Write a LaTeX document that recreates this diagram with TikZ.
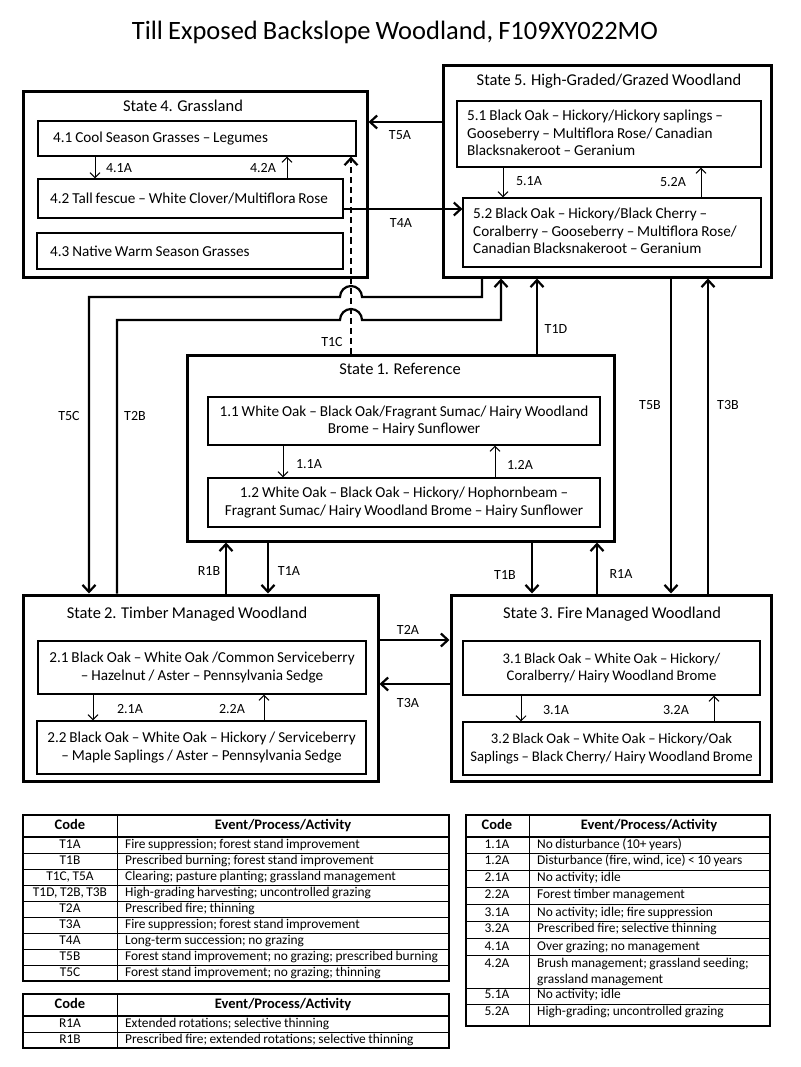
\documentclass[tikz,border=0pt]{standalone}
\usepackage{fontspec}
\setmainfont{Carlito}[WordSpace=0.85]
\usetikzlibrary{arrows.meta}
\begin{document}
\begin{tikzpicture}[x=1pt,y=-1pt,
  statebox/.style={draw,line width=3pt,inner sep=0pt},
  ibox/.style={draw,line width=1.2pt,inner ysep=0pt,font=\fontsize{15.2}{17.5}\selectfont},
  cbox/.style={ibox,align=center},
  sbox/.style={cbox,font=\fontsize{14.7}{17.5}\selectfont},
  btext/.style={font=\fontsize{15.2}{17.5}\selectfont,inner sep=0pt,anchor=west,align=left},
  stitle/.style={font=\fontsize{16.5}{19}\selectfont,inner sep=0pt,anchor=base},
  lbl/.style={font=\fontsize{14}{17}\selectfont,inner sep=0pt,anchor=base},
  conn/.style={line width=2.2pt,-{Straight Barb[length=7pt,width=13pt]}},
  iconn/.style={line width=1pt,-{Straight Barb[length=5pt,width=10pt]}},
  tline/.style={line width=0.9pt},
  tframe/.style={line width=1.3pt},
  thead/.style={font=\fontsize{14.5}{16}\bfseries\selectfont,inner sep=0pt,text height=10pt,text depth=3pt},
  tcode/.style={font=\fontsize{13.4}{15}\selectfont,inner sep=0pt,text height=9pt,text depth=3pt},
  ttext/.style={font=\fontsize{13.4}{15.5}\selectfont,inner sep=0pt,text height=9pt,text depth=3pt,anchor=west,align=left}
]
\useasboundingbox (0,0) rectangle (800,1067);

% title
\node[font=\fontsize{26.5}{30}\selectfont,inner sep=0pt,anchor=base] (title) at (395,40) {Till Exposed Backslope Woodland, F109XY022MO};

% states
\node[statebox,minimum width=344pt,minimum height=185pt] (s4) at (195,184.5) {};
\node[statebox,minimum width=328pt,minimum height=211pt] (s5) at (607,171.5) {};
\node[statebox,minimum width=427pt,minimum height=186pt] (s1) at (400.5,448) {};
\node[statebox,minimum width=355pt,minimum height=186pt] (s2) at (200.5,688) {};
\node[statebox,minimum width=320pt,minimum height=186pt] (s3) at (611,688) {};

\node[stitle] (s4t) at (183,112) {State 4. Grassland};
\node[stitle] (s5t) at (609,86) {State 5. High-Graded/Grazed Woodland};
\node[stitle] (s1t) at (400,374) {State 1. Reference};
\node[stitle] (s2t) at (187,618) {State 2. Timber Managed Woodland};
\node[stitle] (s3t) at (612,618) {State 3. Fire Managed Woodland};

% inner boxes, left-aligned text
\node[ibox,minimum width=318pt,minimum height=35pt] (b41) at (197,138.5) {};
\node[btext] (b41t) at (53,138.5) {4.1 Cool Season Grasses – Legumes};
\node[ibox,minimum width=305pt,minimum height=39pt] (b42) at (190.5,198.5) {};
\node[btext] (b42t) at (50,198.5) {4.2 Tall fescue – White Clover/Multiflora Rose};
\node[ibox,minimum width=306pt,minimum height=36pt] (b43) at (190,251) {};
\node[btext] (b43t) at (50,251) {4.3 Native Warm Season Grasses};
\node[ibox,minimum width=304pt,minimum height=66pt] (b51) at (609,134) {};
\node[btext] (b51t) at (467,133) {5.1 Black Oak – Hickory/Hickory saplings –\\Gooseberry – Multiflora Rose/ Canadian\\Blacksnakeroot – Geranium};
\node[ibox,minimum width=298pt,minimum height=69pt] (b52) at (612,232.5) {};
\node[btext] (b52t) at (473,231) {5.2 Black Oak – Hickory/Black Cherry –\\Coralberry – Gooseberry – Multiflora Rose/\\Canadian Blacksnakeroot – Geranium};

% inner boxes, centred text
\node[cbox,minimum width=392pt,minimum height=48pt,inner xsep=2pt] (b11) at (404,421) {1.1 White Oak – Black Oak/Fragrant Sumac/ Hairy Woodland\\Brome – Hairy Sunflower};
\node[cbox,minimum width=392pt,minimum height=49pt,inner xsep=2pt] (b12) at (404,502.5) {1.2 White Oak – Black Oak – Hickory/ Hophornbeam –\\Fragrant Sumac/ Hairy Woodland Brome – Hairy Sunflower};
\node[cbox,minimum width=328pt,minimum height=53pt,inner xsep=2pt] (b21) at (202,667.5) {2.1 Black Oak – White Oak /Common Serviceberry\\– Hazelnut / Aster – Pennsylvania Sedge};
\node[cbox,minimum width=329pt,minimum height=53pt,inner xsep=2pt] (b22) at (201.5,747.5) {2.2 Black Oak – White Oak – Hickory / Serviceberry\\– Maple Saplings / Aster – Pennsylvania Sedge};
\node[sbox,minimum width=297pt,minimum height=54pt,inner xsep=2pt] (b31) at (611.5,668) {3.1 Black Oak – White Oak – Hickory/\\Coralberry/ Hairy Woodland Brome};
\node[sbox,minimum width=297pt,minimum height=53pt,inner xsep=2pt] (b32) at (611.5,748.5) {3.2 Black Oak – White Oak – Hickory/Oak\\Saplings – Black Cherry/ Hairy Woodland Brome};

% lane coordinates
\coordinate (xT5C) at (89,0);
\coordinate (xT2B) at (117,0);
\coordinate (xR1B) at (226,0);
\coordinate (xT1A) at (268,0);
\coordinate (xT1C) at (351,0);
\coordinate (xT1B) at (532,0);
\coordinate (xT1D) at (537,0);
\coordinate (xR1A) at (597,0);
\coordinate (xT5B) at (671,0);
\coordinate (xT3B) at (708,0);
\coordinate (yT5A) at (0,122);
\coordinate (yT4A) at (0,209);
\coordinate (yT2A) at (0,640);
\coordinate (yT3A) at (0,684);
\coordinate (t5c1) at (482,297);
\coordinate (hop1) at (362,297);
\coordinate (t5c2) at (89,297);
\coordinate (t2b1) at (117,320);
\coordinate (hop2) at (340,320);
\coordinate (t2b2) at (501,320);

% connectors between states
\draw[conn] (s5.west |- yT5A) -- (s4.east |- yT5A);
\draw[conn] (b42.east |- yT4A) -- (b52.west |- yT4A);
\draw[conn,dash pattern=on 6pt off 4pt] (s1.north -| xT1C) -- (b41.south -| xT1C);
\draw[conn] (s5.south -| t5c1) -- (t5c1) -- (hop1) arc[start angle=0,end angle=180,radius=11pt] -- (t5c2) -- (s2.north -| t5c2);
\draw[conn] (s2.north -| t2b1) -- (t2b1) -- (hop2) arc[start angle=180,end angle=0,radius=11pt] -- (t2b2) -- (s5.south -| t2b2);
\draw[conn] (s1.north -| xT1D) -- (s5.south -| xT1D);
\draw[conn] (s5.south -| xT5B) -- (s3.north -| xT5B);
\draw[conn] (s3.north -| xT3B) -- (s5.south -| xT3B);
\draw[conn] (s1.south -| xT1A) -- (s2.north -| xT1A);
\draw[conn] (s2.north -| xR1B) -- (s1.south -| xR1B);
\draw[conn] (s1.south -| xT1B) -- (s3.north -| xT1B);
\draw[conn] (s3.north -| xR1A) -- (s1.south -| xR1A);
\draw[conn] (s2.east |- yT2A) -- (s3.west |- yT2A);
\draw[conn] (s3.west |- yT3A) -- (s2.east |- yT3A);

% connector labels
\node[lbl] (lT5A) at (400,140) {T5A};
\node[lbl] (lT4A) at (401,228) {T4A};
\node[lbl] (lT1C) at (332,346) {T1C};
\node[lbl] (lT1D) at (556,333) {T1D};
\node[lbl] (lT5C) at (69,420) {T5C};
\node[lbl] (lT2B) at (135,420) {T2B};
\node[lbl] (lT5B) at (650,409) {T5B};
\node[lbl] (lT3B) at (728,409) {T3B};
\node[lbl] (lR1B) at (209,575) {R1B};
\node[lbl] (lT1A) at (289,575) {T1A};
\node[lbl] (lT1B) at (505,579) {T1B};
\node[lbl] (lR1A) at (621,578) {R1A};
\node[lbl] (lT2A) at (408,634) {T2A};
\node[lbl] (lT3A) at (408,707) {T3A};

% inner transitions
\draw[iconn] (b41.south -| 95,0) -- (b42.north -| 95,0);
\draw[iconn] (b42.north -| 287,0) -- (b41.south -| 287,0);
\draw[iconn] (b51.south -| 503,0) -- (b52.north -| 503,0);
\draw[iconn] (b52.north -| 701,0) -- (b51.south -| 701,0);
\draw[iconn] (b11.south -| 283,0) -- (b12.north -| 283,0);
\draw[iconn] (b12.north -| 495,0) -- (b11.south -| 495,0);
\draw[iconn] (b21.south -| 93,0) -- (b22.north -| 93,0);
\draw[iconn] (b22.north -| 264,0) -- (b21.south -| 264,0);
\draw[iconn] (b31.south -| 521,0) -- (b32.north -| 521,0);
\draw[iconn] (b32.north -| 714,0) -- (b31.south -| 714,0);

\node[lbl] (l41A) at (119,173) {4.1A};
\node[lbl] (l42A) at (263,173) {4.2A};
\node[lbl] (l51A) at (529,186) {5.1A};
\node[lbl] (l52A) at (673,187) {5.2A};
\node[lbl] (l11A) at (309,468) {1.1A};
\node[lbl] (l12A) at (520,469) {1.2A};
\node[lbl] (l21A) at (130,713) {2.1A};
\node[lbl] (l22A) at (232,713) {2.2A};
\node[lbl] (l31A) at (556,714) {3.1A};
\node[lbl] (l32A) at (676,714) {3.2A};

% ---------- left table 1 ----------
\foreach \yy in {837,853,869,885,901,917,933,949,965} \draw[tline] (23,\yy) -- (449,\yy);
\draw[tline] (117,815) -- (117,981);
\draw[tframe] (23,815) rectangle (449,981);
\draw[tframe] (23,837) -- (449,837);
\node[thead] (th1a) at (70,826) {Code};
\node[thead] (th1b) at (283,826) {Event/Process/Activity};
\foreach [count=\i] \c/\t in {{T1A}/{Fire suppression; forest stand improvement},
  {T1B}/{Prescribed burning; forest stand improvement},
  {T1C, T5A}/{Clearing; pasture planting; grassland management},
  {T1D, T2B, T3B}/{High-grading harvesting; uncontrolled grazing},
  {T2A}/{Prescribed fire; thinning},
  {T3A}/{Fire suppression; forest stand improvement},
  {T4A}/{Long-term succession; no grazing},
  {T5B}/{Forest stand improvement; no grazing; prescribed burning},
  {T5C}/{Forest stand improvement; no grazing; thinning}}
{
  \node[tcode] (lc\i) at (70,{837+16*\i-8}) {\c};
  \node[ttext] (lt\i) at (125,{837+16*\i-8}) {\t};
}

% ---------- left table 2 ----------
\draw[tline] (23,1032) -- (449,1032);
\draw[tline] (117,994) -- (117,1048);
\draw[tframe] (23,994) rectangle (449,1048);
\draw[tframe] (23,1016) -- (449,1016);
\node[thead] (th2a) at (70,1005) {Code};
\node[thead] (th2b) at (283,1005) {Event/Process/Activity};
\node[tcode] (rc1) at (70,1024) {R1A};
\node[ttext] (rt1) at (125,1024) {Extended rotations; selective thinning};
\node[tcode] (rc2) at (70,1040) {R1B};
\node[ttext] (rt2) at (125,1040) {Prescribed fire; extended rotations; selective thinning};

% ---------- right table ----------
\foreach \yy in {853,870,887,904,921,938,955,988,1004} \draw[tline] (466,\yy) -- (770,\yy);
\draw[tline] (529,815) -- (529,1026);
\draw[tframe] (466,815) rectangle (770,1026);
\draw[tframe] (466,837) -- (770,837);
\node[thead] (th3a) at (497,826) {Code};
\node[thead] (th3b) at (649,826) {Event/Process/Activity};
\foreach [count=\i] \c/\t/\yy in {{1.1A}/{No disturbance (10+ years)}/845,
  {1.2A}/{Disturbance (fire, wind, ice) < 10 years}/861,
  {2.1A}/{No activity; idle}/878,
  {2.2A}/{Forest timber management}/895,
  {3.1A}/{No activity; idle; fire suppression}/913,
  {3.2A}/{Prescribed fire; selective thinning}/929,
  {4.1A}/{Over grazing; no management}/947,
  {5.1A}/{No activity; idle}/995,
  {5.2A}/{High-grading; uncontrolled grazing}/1012}
{
  \node[tcode] (pc\i) at (497,\yy) {\c};
  \node[ttext] (pt\i) at (537,\yy) {\t};
}
\node[tcode] (pc42) at (497,964) {4.2A};
\node[ttext] (pt42a) at (537,964) {Brush management; grassland seeding;};
\node[ttext] (pt42b) at (537,980) {grassland management};

\end{tikzpicture}
\end{document}
